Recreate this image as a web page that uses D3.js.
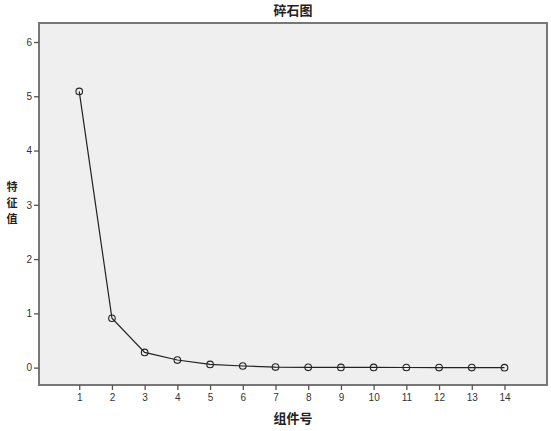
<!DOCTYPE html>
<html><head><meta charset="utf-8">
<script src="https://cdn.jsdelivr.net/npm/d3@7/dist/d3.min.js"></script>
<style>body{margin:0;background:#fff}svg{display:block}</style>
</head><body>
<svg id="c" width="551" height="431"></svg>
<script>
const components = [1,2,3,4,5,6,7,8,9,10,11,12,13,14];
const eigenvalues = [5.09,0.91,0.28,0.14,0.06,0.03,0.01,0.005,0.004,0.003,0.002,0.001,0.001,0.0];
const yTicks = [0,1,2,3,4,5,6];
const title = "碎石图";
const xLabel = "组件号";
const yLabel = "特征值";

const svg = d3.select("#c");
const L=39, T=23, R=547, B=385;
const x = d3.scaleLinear().domain([-0.23,15.3]).range([L,R]);
const y = d3.scaleLinear().domain([-0.32,6.35]).range([B,T]);

svg.append("rect").attr("x",L).attr("y",T).attr("width",R-L).attr("height",B-T)
  .attr("fill","#efefef").attr("stroke","#777").attr("stroke-width",2);

const xa = svg.append("g").attr("transform",`translate(0,${B})`)
  .call(d3.axisBottom(x).tickValues(components).tickSize(5).tickPadding(4).tickFormat(d3.format("d")));
const ya = svg.append("g").attr("transform",`translate(${L},0)`)
  .call(d3.axisLeft(y).tickValues(yTicks).tickSize(5).tickPadding(2).tickFormat(d3.format("d")));
[xa,ya].forEach(a=>{
  a.select(".domain").remove();
  a.selectAll(".tick line").attr("stroke","#555").attr("stroke-width",1.3);
  a.selectAll(".tick text").attr("fill","#333").style("font-family","Liberation Sans, Arial, sans-serif").style("font-size","10px");
});

const line = d3.line().x((d,i)=>x(components[i])).y(d=>y(d));
svg.append("path").datum(eigenvalues).attr("d",line).attr("fill","none").attr("stroke","#222").attr("stroke-width",1.2);
svg.selectAll("circle.p").data(eigenvalues).join("circle").attr("class","p")
  .attr("cx",(d,i)=>x(components[i])).attr("cy",d=>y(d)).attr("r",3.3)
  .attr("fill","none").attr("stroke","#222").attr("stroke-width",1.1);

const cjk = "'Noto Sans CJK SC', sans-serif";
svg.append("text").attr("x",293).attr("y",15).attr("text-anchor","middle")
  .style("font-family",cjk).style("font-weight","bold").style("font-size","13px").attr("fill","#222").text(title);
svg.append("text").attr("x",293).attr("y",423).attr("text-anchor","middle")
  .style("font-family",cjk).style("font-weight","bold").style("font-size","13px").attr("fill","#222").text(xLabel);
yLabel.split("").forEach((ch,i)=>{
  svg.append("text").attr("x",12).attr("y",191+i*16).attr("text-anchor","middle")
    .style("font-family",cjk).style("font-weight","bold").style("font-size","11px").attr("fill","#222").text(ch);
});
</script>
</body></html>
